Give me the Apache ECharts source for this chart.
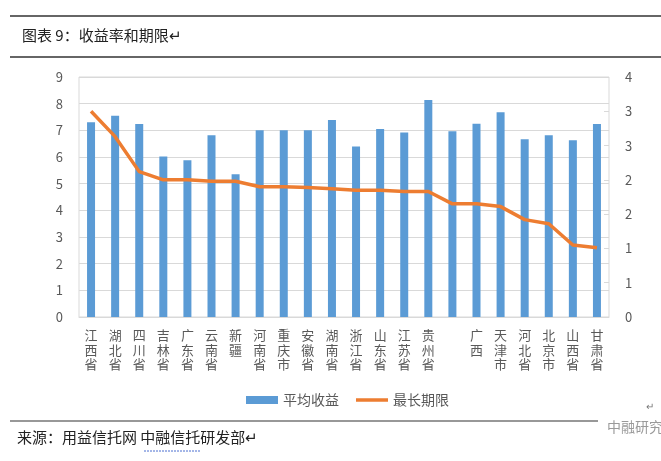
<!DOCTYPE html>
<html>
<head>
<meta charset="utf-8">
<script src="https://cdn.jsdelivr.net/npm/echarts@6/dist/echarts.min.js"></script>
<style>
    html, body { margin: 0; padding: 0; background: #fff; }
    #chart { width: 661px; height: 461px; }
</style>
</head>
<body>
<div id="chart"></div>
<script>
var provinces = ['江西省', '湖北省', '四川省', '吉林省', '广东省', '云南省', '新疆', '河南省', '重庆市', '安徽省', '湖南省',
    '浙江省', '山东省', '江苏省', '贵州省', ' ', '广西', '天津市', '河北省', '北京市', '山西省', '甘肃省'];
var avgYield = [7.3, 7.55, 7.24, 6.02, 5.88, 6.82, 5.35, 7.0, 7.0, 7.0, 7.39,
    6.39, 7.05, 6.92, 8.14, 6.97, 7.25, 7.68, 6.67, 6.82, 6.63, 7.24];
var maxTerm = [3.0, 2.63, 2.12, 2.0, 2.0, 1.98, 1.98, 1.9, 1.9, 1.89, 1.87,
    1.85, 1.85, 1.83, 1.83, 1.65, 1.65, 1.61, 1.42, 1.36, 1.05, 1.01];

var font = '"Noto Sans CJK SC", "Noto Sans", sans-serif';
var myChart = echarts.init(document.getElementById('chart'));

var option = {
    backgroundColor: '#fff',
    textStyle: { fontFamily: font },
    animation: false,
    graphic: [
        // 标题上下的横线
        { type: 'line', shape: { x1: 10, y1: 16, x2: 661, y2: 16 }, style: { stroke: '#333', lineWidth: 1.5 } },
        { type: 'line', shape: { x1: 10, y1: 57, x2: 661, y2: 57 }, style: { stroke: '#333', lineWidth: 1.5 } },
        { type: 'text', left: 22, top: 28, style: { text: '图表 9：收益率和期限↵', fill: '#222', font: '15px ' + font } },
        // 来源
        { type: 'line', shape: { x1: 10, y1: 421, x2: 598, y2: 421 }, style: { stroke: '#333', lineWidth: 1.2 } },
        { type: 'text', left: 17, top: 430, style: { text: '来源：用益信托网 中融信托研发部↵', fill: '#222', font: '15px ' + font } },
        { type: 'line', shape: { x1: 144, y1: 451, x2: 200, y2: 451 }, style: { stroke: '#4a6fd0', lineWidth: 1, lineDash: [2, 1] } },
        { type: 'text', left: 607, top: 420, style: { text: '中融研究', fill: '#9a9a9a', font: '14px ' + font } },
        { type: 'text', left: 646, top: 401, style: { text: '↵', fill: '#777', font: '10px ' + font } }
    ],
    legend: {
        left: 241,
        top: 388,
        itemGap: 17,
        itemWidth: 32,
        itemHeight: 8,
        textStyle: { color: '#595959', fontSize: 14, fontFamily: font },
        data: [
            { name: '平均收益', icon: 'rect' },
            // 图例只画一条线
            { name: '最长期限', icon: 'path://M0,0 L32,0 L32,3.5 L0,3.5 Z' }
        ]
    },
    grid: {
        show: true,
        left: 79,
        right: 52,
        top: 77,
        bottom: 144,
        borderColor: '#d9d9d9',
        borderWidth: 1
    },
    xAxis: {
        type: 'category',
        data: provinces,
        axisLine: { lineStyle: { color: '#d9d9d9' } },
        axisTick: { show: false },
        axisLabel: {
            interval: 0,
            color: '#595959',
            fontSize: 13,
            lineHeight: 14.5,
            verticalAlign: 'top',
            margin: 11,
            formatter: function (value) {
                // 竖排文字
                return value.split('').join('\n');
            }
        }
    },
    yAxis: [
        {
            type: 'value',
            min: 0,
            max: 9,
            interval: 1,
            axisLine: { show: false },
            axisTick: { show: false },
            splitLine: { lineStyle: { color: '#d9d9d9' } },
            axisLabel: { color: '#595959', fontSize: 13, margin: 16 }
        },
        {
            type: 'value',
            min: 0,
            max: 3.5,
            interval: 0.5,
            axisLine: { show: false },
            axisTick: { show: true, inside: true, length: 5, lineStyle: { color: '#d9d9d9' } },
            splitLine: { show: false },
            axisLabel: {
                color: '#595959',
                fontSize: 13,
                margin: 16,
                formatter: function (value) {
                    return Math.round(value);
                }
            }
        }
    ],
    series: [
        {
            name: '平均收益',
            type: 'bar',
            data: avgYield,
            barWidth: 8,
            itemStyle: { color: '#5b9bd5' }
        },
        {
            name: '最长期限',
            type: 'line',
            yAxisIndex: 1,
            data: maxTerm,
            symbol: 'none',
            lineStyle: { color: '#ed7d31', width: 3.5 },
            itemStyle: { color: '#ed7d31' }
        }
    ]
};

myChart.setOption(option);
</script>
</body>
</html>
